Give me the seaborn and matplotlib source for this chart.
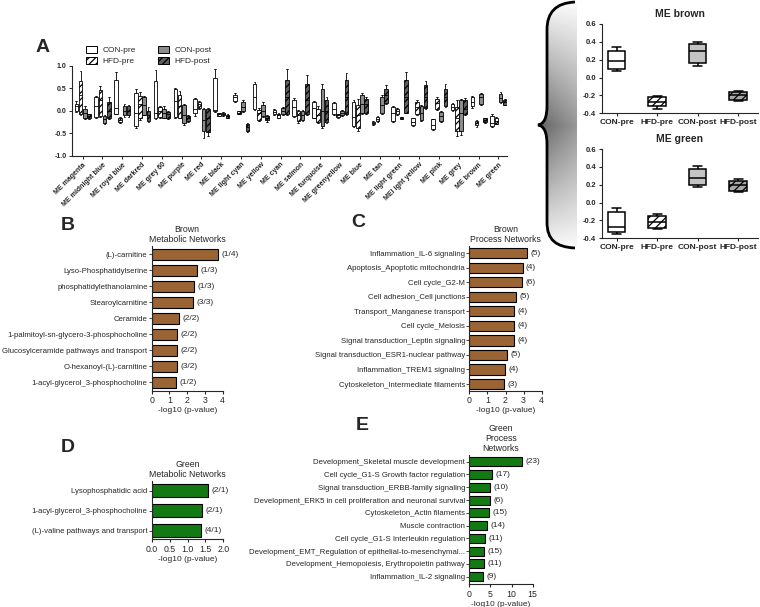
import numpy as np
import pandas as pd
import seaborn as sns
import matplotlib.pyplot as plt
from matplotlib.patches import Patch, PathPatch
from matplotlib.path import Path

# ---- Panel A data: five-number summaries (min, q1, median, q3, max) per module ----
modules = ["ME magenta", "ME midnight blue", "ME royal blue", "ME darkred", "ME grey 60",
           "ME purple", "ME red", "ME black", "ME light cyan", "ME yellow", "ME cyan",
           "ME salmon", "ME turquoise", "ME greenyellow", "ME blue", "ME tan",
           "ME light green", "MEl ight yellow", "ME pink", "ME grey", "ME brown", "ME green"]
groups = ["CON-pre", "HFD-pre", "CON-post", "HFD-post"]

con_pre = [[-0.02, 0.0, 0.1, 0.16, 0.21], [-0.15, -0.13, 0.1, 0.3, 0.34], [-0.08, -0.07, 0.06, 0.68, 0.87],
           [-0.39, -0.34, -0.04, 0.4, 0.49], [-0.18, -0.16, -0.05, 0.66, 0.9], [-0.15, -0.14, 0.21, 0.48, 0.5],
           [-0.12, -0.05, 0.05, 0.26, 0.28], [-0.02, -0.01, 0.03, 0.73, 0.93], [0.19, 0.22, 0.3, 0.36, 0.4],
           [0.02, 0.04, 0.31, 0.6, 0.65], [-0.09, -0.08, -0.03, 0.02, 0.04], [-0.13, -0.11, 0.08, 0.25, 0.28],
           [-0.17, -0.15, 0.06, 0.2, 0.23], [-0.1, -0.08, 0.05, 0.18, 0.2], [-0.36, -0.33, -0.13, 0.2, 0.24],
           [-0.32, -0.3, -0.27, -0.24, -0.23], [-0.24, -0.22, -0.05, 0.08, 0.11], [-0.33, -0.31, -0.25, -0.17, -0.15],
           [-0.43, -0.41, -0.32, -0.19, -0.18], [0.0, 0.02, 0.08, 0.15, 0.17], [0.07, 0.1, 0.19, 0.3, 0.34],
           [-0.35, -0.33, -0.27, -0.11, -0.06]]
hfd_pre = [[-0.09, -0.06, 0.35, 0.66, 0.88], [-0.14, -0.12, 0.25, 0.47, 0.55], [-0.26, -0.24, -0.2, -0.16, -0.13],
           [-0.2, -0.17, 0.15, 0.33, 0.43], [-0.16, -0.14, 0.0, 0.08, 0.1], [-0.17, -0.15, 0.1, 0.35, 0.45],
           [0.05, 0.07, 0.15, 0.2, 0.22], [-0.12, -0.11, -0.08, -0.05, -0.04], [-0.08, -0.07, -0.04, -0.01, 0.0],
           [-0.22, -0.2, -0.05, 0.02, 0.07], [-0.17, -0.15, -0.1, -0.06, -0.04], [-0.26, -0.22, -0.1, 0.0, 0.03],
           [-0.28, -0.25, -0.1, 0.05, 0.1], [-0.15, -0.14, -0.1, -0.07, -0.06], [-0.44, -0.38, -0.1, 0.12, 0.26],
           [-0.24, -0.22, -0.18, -0.14, -0.12], [-0.09, -0.08, 0.0, 0.05, 0.07], [-0.1, -0.08, 0.08, 0.2, 0.25],
           [0.03, 0.05, 0.18, 0.27, 0.3], [-0.56, -0.45, -0.15, 0.08, 0.24], [-0.35, -0.32, -0.27, -0.22, -0.21],
           [-0.3, -0.29, -0.22, -0.15, -0.13]]
con_post = [[-0.19, -0.17, -0.05, 0.04, 0.1], [-0.3, -0.27, -0.18, -0.12, -0.1], [-0.13, -0.1, 0.0, 0.1, 0.15],
            [-0.1, -0.09, 0.13, 0.3, 0.33], [-0.17, -0.15, -0.04, 0.05, 0.1], [-0.31, -0.28, -0.09, 0.13, 0.15],
            [-0.61, -0.46, -0.2, 0.04, 0.06], [-0.11, -0.1, -0.07, -0.04, -0.03], [-0.02, 0.0, 0.08, 0.19, 0.24],
            [-0.13, -0.11, 0.0, 0.12, 0.19], [-0.09, -0.08, 0.0, 0.06, 0.08], [-0.22, -0.2, -0.1, 0.0, 0.02],
            [-0.38, -0.33, 0.0, 0.48, 0.6], [-0.12, -0.1, -0.05, 0.0, 0.02], [-0.06, -0.04, 0.15, 0.35, 0.4],
            [-0.06, -0.04, 0.12, 0.3, 0.36], [-0.19, -0.18, -0.16, -0.14, -0.13], [-0.23, -0.21, -0.05, 0.1, 0.13],
            [-0.24, -0.22, -0.12, -0.02, 0.0], [-0.54, -0.45, -0.05, 0.24, 0.27], [0.13, 0.16, 0.3, 0.38, 0.4],
            [0.17, 0.2, 0.28, 0.38, 0.41]]
hfd_post = [[-0.19, -0.17, -0.12, -0.08, -0.06], [-0.19, -0.15, 0.0, 0.2, 0.31], [-0.13, -0.1, 0.0, 0.1, 0.13],
            [-0.25, -0.22, -0.1, 0.0, 0.08], [-0.18, -0.16, -0.08, -0.02, 0.0], [-0.24, -0.22, -0.17, -0.11, -0.1],
            [-0.56, -0.48, -0.15, 0.04, 0.06], [-0.16, -0.15, -0.12, -0.09, -0.07], [-0.47, -0.44, -0.36, -0.3, -0.27],
            [-0.24, -0.21, -0.17, -0.12, -0.1], [-0.1, -0.08, 0.3, 0.68, 0.93], [-0.1, -0.08, 0.25, 0.6, 0.8],
            [-0.28, -0.25, 0.0, 0.25, 0.31], [-0.1, -0.08, 0.3, 0.68, 0.84], [-0.06, -0.04, 0.15, 0.27, 0.31],
            [0.16, 0.18, 0.35, 0.48, 0.57], [-0.05, -0.04, 0.3, 0.68, 0.86], [0.04, 0.06, 0.3, 0.57, 0.66],
            [0.08, 0.1, 0.3, 0.48, 0.6], [-0.1, -0.08, 0.05, 0.24, 0.28], [-0.26, -0.25, -0.2, -0.16, -0.15],
            [0.12, 0.13, 0.2, 0.24, 0.26]]

# ---- Panels B-E data ----
b_labels = ["(L)-carnitine", "Lyso-Phosphatidylserine", "phosphatidylethanolamine", "Stearoylcarnitine",
            "Ceramide", "1-palmitoyl-sn-glycero-3-phosphocholine", "Glucosylceramide pathways and transport",
            "O-hexanoyl-(L)-carnitine", "1-acyl-glycerol_3-phosphocholine"]
b_values = [3.75, 2.57, 2.4, 2.34, 1.54, 1.41, 1.43, 1.41, 1.35]
b_counts = ["(1/4)", "(1/3)", "(1/3)", "(3/3)", "(2/2)", "(2/2)", "(2/2)", "(3/2)", "(1/2)"]

c_labels = ["Inflammation_IL-6 signaling", "Apoptosis_Apoptotic mitochondria", "Cell cycle_G2-M",
            "Cell adhesion_Cell junctions", "Transport_Manganese transport", "Cell cycle_Meiosis",
            "Signal transduction_Leptin signaling", "Signal transduction_ESR1-nuclear pathway",
            "Inflammation_TREM1 signaling", "Cytoskeleton_Intermediate filaments"]
c_values = [3.17, 2.94, 2.89, 2.56, 2.49, 2.45, 2.45, 2.06, 1.97, 1.91]
c_counts = ["(5)", "(4)", "(6)", "(5)", "(4)", "(4)", "(4)", "(5)", "(4)", "(3)"]

d_labels = ["Lysophosphatidic acid", "1-acyl-glycerol_3-phosphocholine", "(L)-valine pathways and transport"]
d_values = [1.58, 1.41, 1.38]
d_counts = ["(2/1)", "(2/1)", "(4/1)"]

e_labels = ["Development_Skeletal muscle development", "Cell cycle_G1-S Growth factor regulation",
            "Signal transduction_ERBB-family signaling",
            "Development_ERK5 in cell proliferation and neuronal survival", "Cytoskeleton_Actin filaments",
            "Muscle contraction", "Cell cycle_G1-S Interleukin regulation",
            "Development_EMT_Regulation of epithelial-to-mesenchymal...",
            "Development_Hemopoiesis, Erythropoietin pathway", "Inflammation_IL-2 signaling"]
e_values = [12.4, 5.38, 4.98, 4.82, 4.66, 4.19, 3.63, 3.48, 3.4, 3.16]
e_counts = ["(23)", "(17)", "(10)", "(6)", "(15)", "(14)", "(11)", "(15)", "(11)", "(9)"]

BROWN = "#9a6434"
GREEN = "#137a13"

sns.set_style("ticks")
plt.rcParams["font.family"] = ["Liberation Sans", "DejaVu Sans"]
plt.rcParams["hatch.linewidth"] = 0.9
plt.rcParams["axes.linewidth"] = 0.8

W, H = 760, 607
fig = plt.figure(figsize=(W / 100, H / 100), dpi=100)


def add_ax(left, top, right, bottom):
    return fig.add_axes([left / W, 1 - bottom / H, (right - left) / W, (bottom - top) / H])


def hatch_boxes(ax, n_hue, width, hatched):
    # work out the hue slot of each box from its x centre
    step = width / n_hue
    for p in ax.patches:
        ext = p.get_path().get_extents()
        cx = (ext.x0 + ext.x1) / 2
        off = cx - round(cx)
        k = int(round((off + width / 2 - step / 2) / step))
        if k in hatched:
            p.set_hatch("/////")


# ---------------- Panel A ----------------
rows = []
for g, vals in zip(groups, [con_pre, hfd_pre, con_post, hfd_post]):
    for m, five in zip(modules, vals):
        for v in five:
            rows.append((m, g, v))
df_a = pd.DataFrame(rows, columns=["module", "group", "value"])

pal_a = {"CON-pre": "white", "HFD-pre": "white", "CON-post": "#8c8c8c", "HFD-post": "#5e5e5e"}
ax_a = add_ax(72, 66, 507, 155.7)
sns.boxplot(data=df_a, x="module", y="value", hue="group", order=modules, hue_order=groups,
            palette=pal_a, whis=(0, 100), width=0.85, gap=0.15, linecolor="black", linewidth=0.6,
            saturation=1, legend=False, ax=ax_a)
hatch_boxes(ax_a, 4, 0.85, [1, 3])
ax_a.set_xlim(-0.54, 21.43)
ax_a.set_ylim(-1, 1)
ax_a.set_yticks([-1, -0.5, 0, 0.5, 1])
ax_a.set_yticklabels(["-1.0", "-0.5", "0.0", "0.5", "1.0"], fontsize=5, fontweight="bold")
ax_a.set_xticks(range(len(modules)))
ax_a.set_xticklabels(modules, rotation=45, ha="right", rotation_mode="anchor", fontsize=5, fontweight="bold")
ax_a.tick_params(length=2.5, width=0.7, pad=1.5)
ax_a.set_xlabel("")
ax_a.set_ylabel("")
sns.despine(ax=ax_a)

handles = [Patch(facecolor=pal_a[g], edgecolor="black", linewidth=0.7,
                 hatch="/////" if g.startswith("HFD") else None) for g in groups]
fig.legend(handles, groups, ncol=2, loc="upper left", bbox_to_anchor=(82 / W, 1 - 42 / H),
           frameon=False, fontsize=6, handlelength=1.3, handleheight=0.9, labelspacing=0.3,
           columnspacing=2.6, handletextpad=0.7, borderpad=0)

# ---------------- Insets ME brown / ME green ----------------
pal_in = {"CON-pre": "white", "HFD-pre": "white", "CON-post": "#c4c4c4", "HFD-post": "#a8a8a8"}
for name, top, bottom in [("ME brown", 24, 113.3), ("ME green", 149, 238.3)]:
    idx = modules.index(name)
    rows = []
    for g, vals in zip(groups, [con_pre, hfd_pre, con_post, hfd_post]):
        for v in vals[idx]:
            rows.append((g, v))
    d_in = pd.DataFrame(rows, columns=["group", "value"])
    ax_in = add_ax(601.7, top, 758, bottom)
    sns.boxplot(data=d_in, x="group", y="value", hue="group", order=groups, hue_order=groups,
                palette=pal_in, whis=(0, 100), width=0.43, linecolor="black", linewidth=1.1,
                saturation=1, legend=False, ax=ax_in)
    for p in ax_in.patches:
        ext = p.get_path().get_extents()
        k = int(round((ext.x0 + ext.x1) / 2))
        if groups[k].startswith("HFD"):
            p.set_hatch("////")
    ax_in.set_xlim(-0.37, 3.49)
    ax_in.set_ylim(-0.4, 0.6)
    ax_in.set_yticks([-0.4, -0.2, 0, 0.2, 0.4, 0.6])
    ax_in.set_yticklabels(["-0.4", "-0.2", "0.0", "0.2", "0.4", "0.6"], fontsize=5.5, fontweight="bold")
    ax_in.set_xticks(range(4))
    ax_in.set_xticklabels(groups, fontsize=6, fontweight="bold")
    ax_in.tick_params(length=2.5, width=0.8, pad=1.5)
    ax_in.set_xlabel("")
    ax_in.set_ylabel("")
    ax_in.set_title(name, fontsize=7.5, fontweight="bold", pad=5)
    sns.despine(ax=ax_in)

# ---------------- Brace with gradient ----------------
ax_br = add_ax(530, 0, 580, 252)
ax_br.set_xlim(530, 580)
ax_br.set_ylim(252, 0)
ax_br.axis("off")
brace_v = [(575, 2), (556, 3), (547, 12), (547, 30), (547, 105), (547, 118), (544, 124), (538, 125),
           (544, 126), (547, 132), (547, 145), (547, 222), (547, 240), (556, 247), (575, 248)]
C4, LT = Path.CURVE4, Path.LINETO
brace_c = [Path.MOVETO, C4, C4, C4, LT, C4, C4, C4, C4, C4, C4, LT, C4, C4, C4]
fill_path = Path(brace_v + [(577, 248), (577, 2), (575, 2)], brace_c + [LT, LT, Path.CLOSEPOLY])
fill_patch = PathPatch(fill_path, facecolor="none", edgecolor="none", transform=ax_br.transData)
ax_br.add_patch(fill_patch)
yy, xx = np.mgrid[0:252, 536:578]
shade = (1 - np.abs(yy - 125) / 128) * (0.62 - 0.22 * (xx - 536) / 42)
im = ax_br.imshow(1 - shade, cmap="gray", vmin=0, vmax=1, extent=(536, 578, 252, 0), aspect="auto")
im.set_clip_path(fill_patch)
ax_br.add_patch(PathPatch(Path(brace_v, brace_c), facecolor="none", edgecolor="black", linewidth=2))


# ---------------- Bar panels ----------------
def bar_panel(box, labels, values, counts, color, xmax, xticks, xticklabels, ylim_bottom, title, bw=0.7):
    ax = add_ax(*box)
    sns.barplot(x=values, y=labels, orient="h", color=color, saturation=1, edgecolor="black",
                linewidth=0.8, width=bw, ax=ax)
    for i, (v, c) in enumerate(zip(values, counts)):
        ax.annotate(c, (v, i), xytext=(2.5, 0), textcoords="offset points", va="center",
                    fontsize=6)
    ax.set_xlim(0, xmax)
    ax.set_ylim(ylim_bottom, -0.5)
    ax.set_xticks(xticks)
    ax.set_xticklabels(xticklabels, fontsize=6.3)
    ax.tick_params(axis="y", labelsize=5.6, length=2, width=0.6, pad=1)
    ax.tick_params(axis="x", length=2.5, width=0.8, pad=1.5)
    ax.set_xlabel("-log10 (p-value)", fontsize=6, labelpad=1.5)
    ax.set_ylabel("")
    ax.set_title(title, fontsize=6.3, pad=3, linespacing=1.15)
    sns.despine(ax=ax)
    return ax


bar_panel((151.7, 246.3, 222.7, 390.7), b_labels, b_values, b_counts, BROWN, 4,
          [0, 1, 2, 3, 4], ["0", "1", "2", "3", "4"], 8.52, "Brown\nMetabolic Networks", bw=0.68)
bar_panel((469.3, 246, 541.7, 390.7), c_labels, c_values, c_counts, BROWN, 4,
          [0, 1, 2, 3, 4], ["0", "1", "2", "3", "4"], 9.46, "Brown\nProcess Networks")
bar_panel((151.7, 481, 223.3, 539.3), d_labels, d_values, d_counts, GREEN, 2,
          [0, 0.5, 1, 1.5, 2], ["0.0", "0.5", "1.0", "1.5", "2.0"], 2.43, "Green\nMetabolic Networks", bw=0.65)
bar_panel((469.3, 455.3, 532.7, 584), e_labels, e_values, e_counts, GREEN, 15,
          [0, 5, 10, 15], ["0", "5", "10", "15"], 9.57, "Green\nProcess\nNetworks")

# ---------------- Panel letters ----------------
for letter, x, y in [("A", 43, 48), ("B", 68, 225), ("C", 358, 223), ("D", 68, 448), ("E", 362, 426)]:
    fig.text(x / W, 1 - y / H, letter, fontsize=14, fontweight="bold", ha="center", va="center")

fig.savefig("out.png", dpi=100)
